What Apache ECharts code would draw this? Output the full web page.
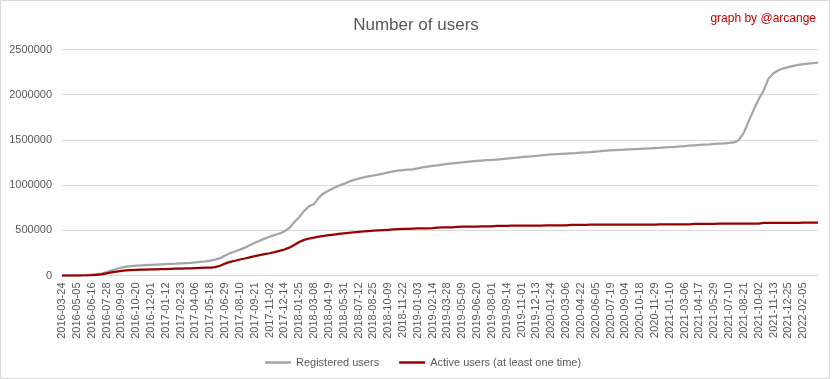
<!DOCTYPE html>
<html>
<head>
<meta charset="utf-8">
<script src="https://cdn.jsdelivr.net/npm/echarts@6/dist/echarts.min.js"></script>
<style>
html,body{margin:0;padding:0;background:#fff;}
#chart{width:832px;height:379px;}
</style>
</head>
<body>
<div id="chart"></div>
<script>
// Tick labels (one every 3 data steps)
const tickLabels = [
 '2016-03-24','2016-05-05','2016-06-16','2016-07-28','2016-09-08','2016-10-20','2016-12-01',
 '2017-01-12','2017-02-23','2017-04-06','2017-05-18','2017-06-29','2017-08-10','2017-09-21',
 '2017-11-02','2017-12-14','2018-01-25','2018-03-08','2018-04-19','2018-05-31','2018-07-12',
 '2018-08-25','2018-10-09','2018-11-22','2019-01-03','2019-02-14','2019-03-28','2019-05-09',
 '2019-06-20','2019-08-01','2019-09-14','2019-11-01','2019-12-13','2020-01-24','2020-03-06',
 '2020-04-22','2020-06-05','2020-07-19','2020-09-04','2020-10-18','2020-11-29','2021-01-10',
 '2021-03-06','2021-04-17','2021-05-29','2021-07-10','2021-08-21','2021-10-02','2021-11-13',
 '2021-12-25','2022-02-05'
];
const stepsPerLabel = 3;

// Registered users (thousands), one value per data step
const registeredK = [
 0,1,2,3,4,6,9,14,22,38,55,72,88,98,104,108,111,114,117,120,
 123,126,129,131,134,137,140,145,151,157,164,176,192,222,246,266,286,308,335,362,
 385,408,428,447,465,488,525,590,645,715,765,790,865,910,940,968,992,1013,1036,1056,
 1071,1086,1096,1106,1116,1127,1140,1152,1160,1165,1170,1175,1185,1196,1204,1212,1219,1227,1234,1240,
 1246,1251,1258,1263,1268,1272,1275,1278,1283,1288,1293,1298,1303,1309,1314,1319,1324,1330,1335,1340,
 1343,1346,1349,1352,1355,1359,1362,1365,1369,1377,1380,1383,1386,1389,1392,1395,1398,1401,1404,1407,
 1410,1413,1417,1421,1424,1428,1432,1436,1440,1444,1448,1451,1455,1459,1462,1466,1472,1500,1580,1710,
 1835,1950,2045,2180,2238,2270,2292,2306,2318,2330,2338,2344,2350,2355
];

// Active users (at least one time) (thousands)
const activeK = [
 0,0,0,0,0,1,3,7,13,24,35,44,52,57,60,62,64,66,67,68,
 70,71,73,75,77,79,80,82,84,86,88,92,108,132,150,163,177,188,201,214,
 226,236,246,258,272,288,308,338,370,394,409,419,430,439,446,453,460,466,472,478,
 483,487,492,496,500,503,506,509,512,515,517,519,520,521,522,524,529,531,532,533,
 539,540,541,541,542,543,543,544,549,550,550,551,551,552,552,553,553,553,554,554,
 554,555,555,560,561,561,561,562,562,562,562,563,563,563,563,563,564,564,564,564,
 564,565,565,565,565,565,566,566,571,572,572,572,572,573,573,573,573,573,574,574,
 574,574,581,582,582,582,583,583,583,583,584,584,584,584
];

const seriesNames = ['Registered users', 'Active users (at least one time)'];
const seriesColors = ['#a5a5a5', '#990000'];
const yTicks = [0, 500000, 1000000, 1500000, 2000000, 2500000];

const toPairs = arr => arr.map((v, i) => [i, v * 1000]);

const chart = echarts.init(document.getElementById('chart'), null, {renderer: 'canvas'});
const FONT = '"Liberation Sans", Arial, sans-serif';

chart.setOption({
  animation: false,
  backgroundColor: '#ffffff',
  title: [
    {
      text: 'Number of users',
      left: 'center',
      top: 12,
      textStyle: {fontFamily: FONT, fontSize: 17, fontWeight: 'normal', color: '#595959'}
    },
    {
      text: 'graph by @arcange',
      right: 11,
      top: 8,
      textStyle: {fontFamily: FONT, fontSize: 12, fontWeight: 'normal', color: '#c00000'}
    }
  ],
  graphic: [{
    type: 'rect',
    shape: {x: 0.5, y: 0.5, width: 829, height: 378},
    style: {fill: 'none', stroke: '#d9d9d9', lineWidth: 1},
    silent: true,
    z: -1
  }],
  legend: {
    left: 260,
    top: 352,
    itemWidth: 26,
    itemHeight: 2.5,
    itemGap: 20,
    icon: 'rect',
    data: seriesNames,
    textStyle: {fontFamily: FONT, fontSize: 11, color: '#595959'}
  },
  grid: {left: 62, right: 14, top: 49.5, bottom: 103.5, containLabel: false},
  xAxis: {
    type: 'value',
    min: 0,
    max: stepsPerLabel * tickLabels.length,
    interval: stepsPerLabel,
    axisLine: {show: true, lineStyle: {color: '#d9d9d9', width: 1}},
    axisTick: {show: false},
    splitLine: {show: false},
    axisLabel: {
      rotate: 90,
      margin: 7,
      fontFamily: FONT,
      fontSize: 11,
      color: '#595959',
      showMinLabel: true,
      showMaxLabel: true,
      formatter: v => {
        const k = Math.round(v / stepsPerLabel);
        return tickLabels[k] !== undefined ? tickLabels[k] : '';
      }
    }
  },
  yAxis: {
    type: 'value',
    min: yTicks[0],
    max: yTicks[yTicks.length - 1],
    interval: yTicks[1] - yTicks[0],
    axisLine: {show: false},
    axisTick: {show: false},
    splitLine: {show: true, lineStyle: {color: '#d9d9d9', width: 1}},
    axisLabel: {margin: 10, fontFamily: FONT, fontSize: 11, color: '#595959', formatter: v => String(v)}
  },
  series: [
    {
      name: seriesNames[0],
      type: 'line',
      data: toPairs(registeredK),
      symbol: 'none',
      color: seriesColors[0],
      lineStyle: {color: seriesColors[0], width: 2.25}
    },
    {
      name: seriesNames[1],
      type: 'line',
      data: toPairs(activeK),
      symbol: 'none',
      color: seriesColors[1],
      lineStyle: {color: seriesColors[1], width: 2.25}
    }
  ]
});
</script>
</body>
</html>
